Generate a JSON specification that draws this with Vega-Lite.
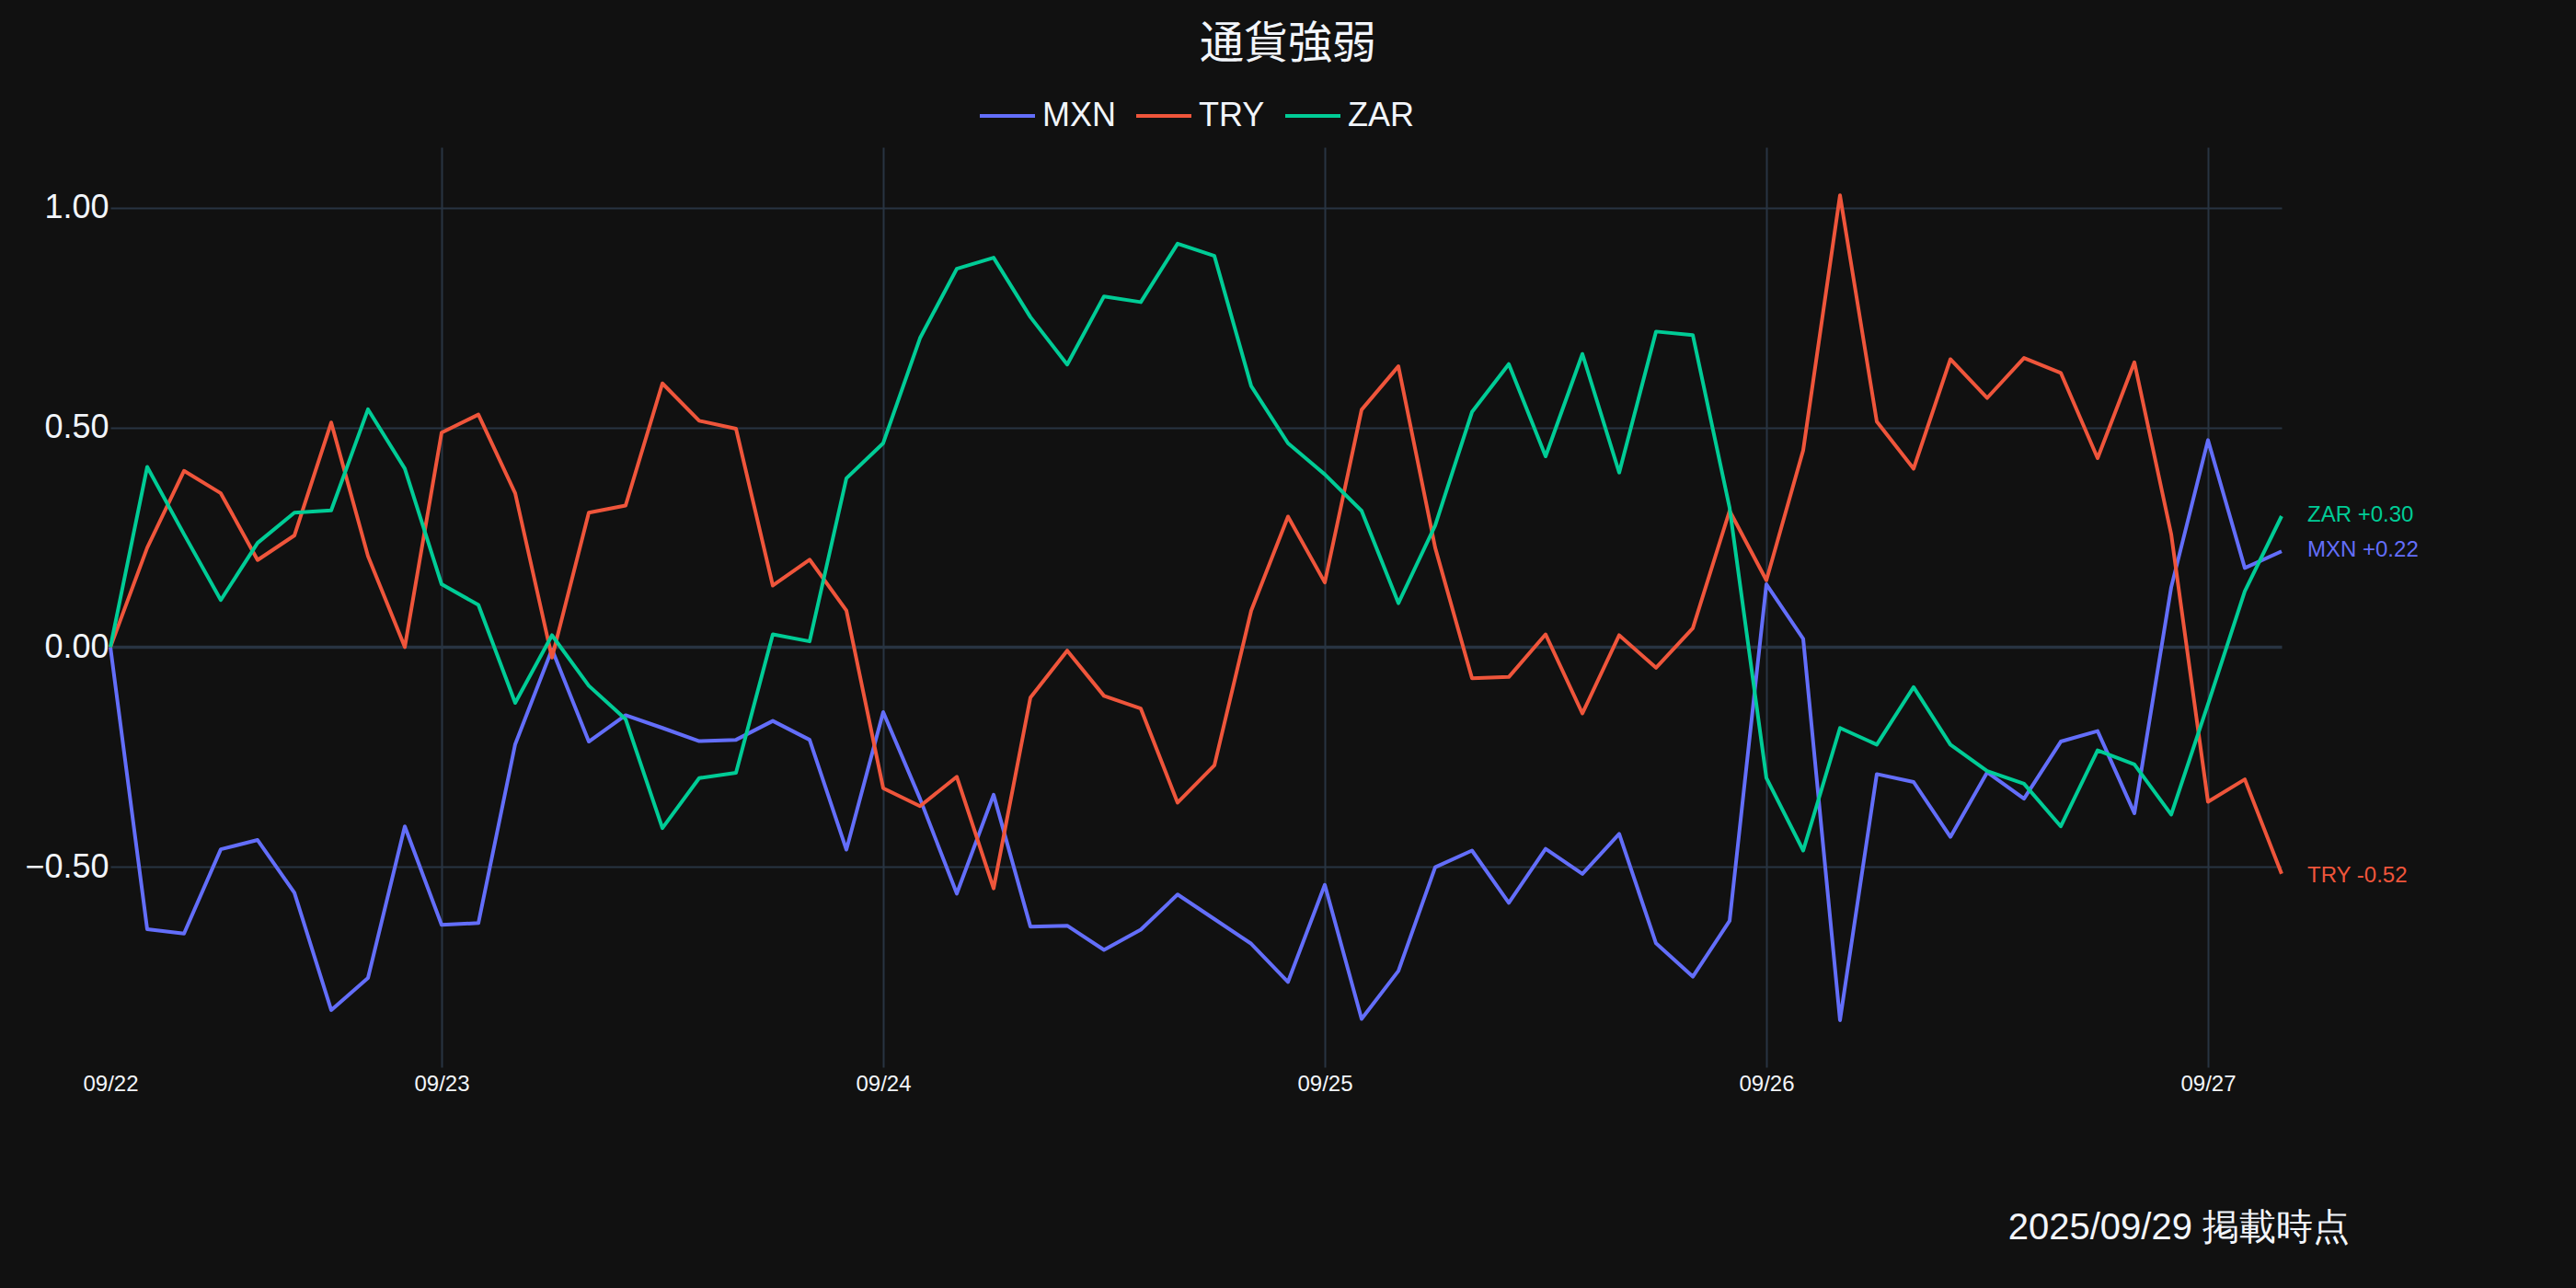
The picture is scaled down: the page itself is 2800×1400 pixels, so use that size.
{
  "$schema": "https://vega.github.io/schema/vega-lite/v6.json",
  "width": 2360,
  "height": 1000,
  "autosize": {"type": "none"},
  "padding": {"left": 120, "top": 160, "right": 320, "bottom": 240},
  "background": "#111111",
  "config": {"view": {"stroke": null}, "font": "Liberation Sans"},
  "title": {"text": "通貨強弱", "font": "Noto Sans CJK JP", "fontSize": 48, "fontWeight": "normal", "color": "#f2f5fa", "anchor": "middle", "frame": "group", "dx": 100, "offset": 21},
  "datasets": {
    "series": [
      {"time":"2025-09-22T06:00","MXN":0,"TRY":0,"ZAR":0},
      {"time":"2025-09-22T08:00","MXN":-0.642,"TRY":0.226,"ZAR":0.410},
      {"time":"2025-09-22T10:00","MXN":-0.652,"TRY":0.401,"ZAR":0.257},
      {"time":"2025-09-22T12:00","MXN":-0.460,"TRY":0.350,"ZAR":0.107},
      {"time":"2025-09-22T14:00","MXN":-0.439,"TRY":0.198,"ZAR":0.237},
      {"time":"2025-09-22T16:00","MXN":-0.559,"TRY":0.254,"ZAR":0.306},
      {"time":"2025-09-22T18:00","MXN":-0.826,"TRY":0.511,"ZAR":0.311},
      {"time":"2025-09-22T20:00","MXN":-0.753,"TRY":0.207,"ZAR":0.541},
      {"time":"2025-09-22T22:00","MXN":-0.408,"TRY":0.000,"ZAR":0.406},
      {"time":"2025-09-23T00:00","MXN":-0.632,"TRY":0.488,"ZAR":0.143},
      {"time":"2025-09-23T02:00","MXN":-0.628,"TRY":0.529,"ZAR":0.096},
      {"time":"2025-09-23T04:00","MXN":-0.221,"TRY":0.350,"ZAR":-0.127},
      {"time":"2025-09-23T06:00","MXN":-0.005,"TRY":-0.024,"ZAR":0.027},
      {"time":"2025-09-23T08:00","MXN":-0.215,"TRY":0.306,"ZAR":-0.088},
      {"time":"2025-09-23T10:00","MXN":-0.155,"TRY":0.322,"ZAR":-0.164},
      {"time":"2025-09-23T12:00","MXN":-0.184,"TRY":0.600,"ZAR":-0.412},
      {"time":"2025-09-23T14:00","MXN":-0.214,"TRY":0.515,"ZAR":-0.298},
      {"time":"2025-09-23T16:00","MXN":-0.211,"TRY":0.497,"ZAR":-0.286},
      {"time":"2025-09-23T18:00","MXN":-0.168,"TRY":0.140,"ZAR":0.029},
      {"time":"2025-09-23T20:00","MXN":-0.211,"TRY":0.199,"ZAR":0.013},
      {"time":"2025-09-23T22:00","MXN":-0.461,"TRY":0.083,"ZAR":0.384},
      {"time":"2025-09-24T00:00","MXN":-0.148,"TRY":-0.321,"ZAR":0.464},
      {"time":"2025-09-24T02:00","MXN":-0.345,"TRY":-0.362,"ZAR":0.703},
      {"time":"2025-09-24T04:00","MXN":-0.561,"TRY":-0.295,"ZAR":0.861},
      {"time":"2025-09-24T06:00","MXN":-0.336,"TRY":-0.549,"ZAR":0.886},
      {"time":"2025-09-24T08:00","MXN":-0.636,"TRY":-0.115,"ZAR":0.751},
      {"time":"2025-09-24T10:00","MXN":-0.634,"TRY":-0.008,"ZAR":0.643},
      {"time":"2025-09-24T12:00","MXN":-0.689,"TRY":-0.111,"ZAR":0.798},
      {"time":"2025-09-24T14:00","MXN":-0.643,"TRY":-0.140,"ZAR":0.785},
      {"time":"2025-09-24T16:00","MXN":-0.563,"TRY":-0.354,"ZAR":0.918},
      {"time":"2025-09-24T18:00","MXN":-0.619,"TRY":-0.269,"ZAR":0.890},
      {"time":"2025-09-24T20:00","MXN":-0.675,"TRY":0.083,"ZAR":0.594},
      {"time":"2025-09-24T22:00","MXN":-0.762,"TRY":0.297,"ZAR":0.464},
      {"time":"2025-09-25T00:00","MXN":-0.541,"TRY":0.147,"ZAR":0.393},
      {"time":"2025-09-25T02:00","MXN":-0.846,"TRY":0.540,"ZAR":0.310},
      {"time":"2025-09-25T04:00","MXN":-0.737,"TRY":0.639,"ZAR":0.100},
      {"time":"2025-09-25T06:00","MXN":-0.501,"TRY":0.226,"ZAR":0.277},
      {"time":"2025-09-25T08:00","MXN":-0.463,"TRY":-0.071,"ZAR":0.535},
      {"time":"2025-09-25T10:00","MXN":-0.582,"TRY":-0.068,"ZAR":0.644},
      {"time":"2025-09-25T12:00","MXN":-0.459,"TRY":0.029,"ZAR":0.434},
      {"time":"2025-09-25T14:00","MXN":-0.516,"TRY":-0.151,"ZAR":0.667},
      {"time":"2025-09-25T16:00","MXN":-0.425,"TRY":0.027,"ZAR":0.397},
      {"time":"2025-09-25T18:00","MXN":-0.674,"TRY":-0.047,"ZAR":0.718},
      {"time":"2025-09-25T20:00","MXN":-0.750,"TRY":0.043,"ZAR":0.710},
      {"time":"2025-09-25T22:00","MXN":-0.623,"TRY":0.310,"ZAR":0.317},
      {"time":"2025-09-26T00:00","MXN":0.143,"TRY":0.152,"ZAR":-0.298},
      {"time":"2025-09-26T02:00","MXN":0.019,"TRY":0.448,"ZAR":-0.463},
      {"time":"2025-09-26T04:00","MXN":-0.849,"TRY":1.028,"ZAR":-0.184},
      {"time":"2025-09-26T06:00","MXN":-0.289,"TRY":0.513,"ZAR":-0.222},
      {"time":"2025-09-26T08:00","MXN":-0.307,"TRY":0.406,"ZAR":-0.091},
      {"time":"2025-09-26T10:00","MXN":-0.432,"TRY":0.655,"ZAR":-0.222},
      {"time":"2025-09-26T12:00","MXN":-0.285,"TRY":0.567,"ZAR":-0.282},
      {"time":"2025-09-26T14:00","MXN":-0.345,"TRY":0.658,"ZAR":-0.311},
      {"time":"2025-09-26T16:00","MXN":-0.215,"TRY":0.624,"ZAR":-0.408},
      {"time":"2025-09-26T18:00","MXN":-0.191,"TRY":0.430,"ZAR":-0.235},
      {"time":"2025-09-26T20:00","MXN":-0.378,"TRY":0.648,"ZAR":-0.267},
      {"time":"2025-09-26T22:00","MXN":0.136,"TRY":0.257,"ZAR":-0.381},
      {"time":"2025-09-27T00:00","MXN":0.471,"TRY":-0.352,"ZAR":-0.130},
      {"time":"2025-09-27T02:00","MXN":0.180,"TRY":-0.301,"ZAR":0.127},
      {"time":"2025-09-27T04:00","MXN":0.218,"TRY":-0.516,"ZAR":0.298}
    ],
    "ends": [
      {"currency":"MXN","time":"2025-09-27T04:00","value":0.22,"label":"MXN +0.22"},
      {"currency":"TRY","time":"2025-09-27T04:00","value":-0.52,"label":"TRY -0.52"},
      {"currency":"ZAR","time":"2025-09-27T04:00","value":0.30,"label":"ZAR +0.30"}
    ]
  },
  "layer": [
    {
      "data": {"name": "series"},
      "transform": [{"fold": ["MXN", "TRY", "ZAR"], "as": ["currency", "value"]}],
      "mark": {"type": "line", "strokeWidth": 4, "strokeJoin": "round"},
      "encoding": {
        "x": {
          "field": "time", "type": "temporal",
          "scale": {"domain": [{"year":2025,"month":9,"date":22,"hours":6},{"year":2025,"month":9,"date":27,"hours":4}], "nice": false},
          "axis": {
            "title": null,
            "values": [
              {"year":2025,"month":9,"date":22,"hours":6},
              {"year":2025,"month":9,"date":23},
              {"year":2025,"month":9,"date":24},
              {"year":2025,"month":9,"date":25},
              {"year":2025,"month":9,"date":26},
              {"year":2025,"month":9,"date":27}
            ],
            "format": "%m/%d",
            "labelFont": "Liberation Sans",
            "labelFontSize": 24,
            "labelColor": "#f2f5fa",
            "labelPadding": 6,
            "labelFlush": false,
            "labelOverlap": false,
            "ticks": false,
            "domain": false,
            "gridColor": "#283442",
            "gridWidth": 2,
            "gridOpacity": {"condition": {"test": "hours(datum.value) != 0", "value": 0}, "value": 1}
          }
        },
        "y": {
          "field": "value", "type": "quantitative",
          "scale": {"domain": [-0.956, 1.1375], "nice": false, "zero": false},
          "axis": {
            "title": null,
            "values": [-0.5, 0, 0.5, 1],
            "format": ".2f",
            "labelFont": "Liberation Sans",
            "labelFontSize": 36,
            "labelColor": "#f2f5fa",
            "labelPadding": 2,
            "ticks": false,
            "domain": false,
            "gridColor": "#283442",
            "gridWidth": {"condition": {"test": "datum.value == 0", "value": 3.5}, "value": 2}
          }
        },
        "color": {
          "field": "currency", "type": "nominal",
          "scale": {"domain": ["MXN", "TRY", "ZAR"], "range": ["#636efa", "#EF553B", "#00cc96"]},
          "legend": {
            "orient": "none", "legendX": 943, "legendY": -66, "direction": "horizontal",
            "title": null, "symbolType": "stroke", "symbolSize": 3600, "symbolStrokeWidth": 4,
            "labelFont": "Liberation Sans", "labelFontSize": 36, "labelColor": "#f2f5fa",
            "labelOffset": 6, "columnPadding": 14, "padding": 0
          }
        }
      }
    },
    {
      "data": {"name": "ends"},
      "mark": {"type": "text", "align": "left", "baseline": "middle", "dx": 28, "fontSize": 24, "font": "Liberation Sans"},
      "encoding": {
        "x": {"field": "time", "type": "temporal"},
        "y": {"field": "value", "type": "quantitative"},
        "text": {"field": "label"},
        "color": {"field": "currency", "type": "nominal", "legend": null}
      }
    },
    {
      "data": {"values": [{}]},
      "mark": {"type": "text", "align": "right", "baseline": "alphabetic", "fontSize": 40, "font": "Liberation Sans", "color": "#f2f5fa"},
      "encoding": {
        "x": {"datum": {"year":2025,"month":9,"date":27,"hours":7,"minutes":42}, "type": "temporal"},
        "y": {"datum": -1.347, "type": "quantitative"},
        "text": {"value": "2025/09/29 掲載時点"}
      }
    }
  ]
}
